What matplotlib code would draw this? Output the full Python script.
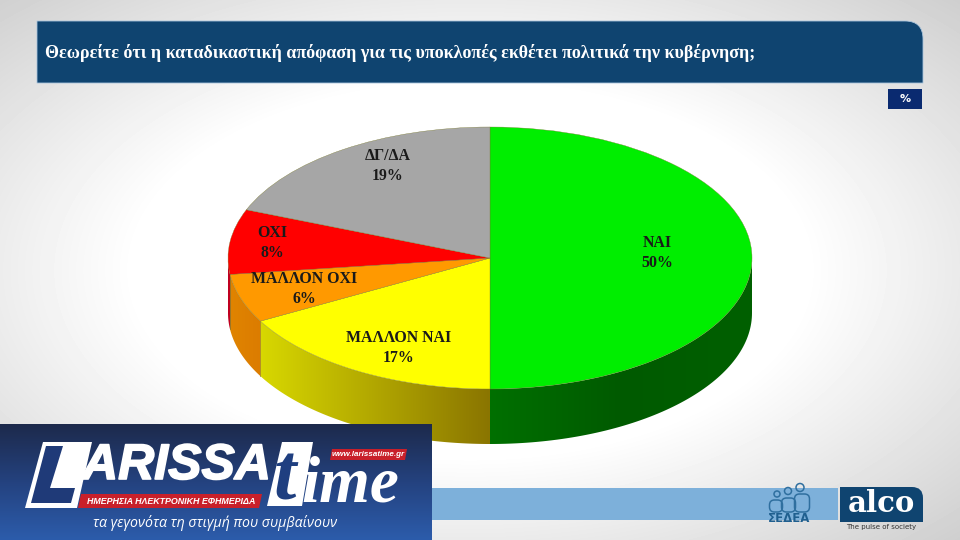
import numpy as np
import matplotlib
matplotlib.use("Agg")
import matplotlib.pyplot as plt
import matplotlib.patheffects as pe
from matplotlib.patches import Polygon, PathPatch, Rectangle, FancyBboxPatch, Circle
from matplotlib.path import Path
from matplotlib.colors import LinearSegmentedColormap

# data
categories = ["ΝΑΙ", "ΜΑΛΛΟΝ ΝΑΙ", "ΜΑΛΛΟΝ ΟΧΙ", "ΟΧΙ", "ΔΓ/ΔΑ"]
values = [50, 17, 6, 8, 19]
top_colors = ["#00ee00", "#ffff00", "#ff9900", "#ff0000", "#a6a6a6"]
wall_colors = [["#007000", "#005a00", "#006000"],
               ["#d8d800", "#8a7500"],
               ["#e08400", "#dc7c00"],
               ["#c00020", "#c00020"],
               ["#808080", "#808080"]]
label_pos = [(657, 253), (399, 348), (304, 289), (272, 243), (388, 166)]
title = "Θεωρείτε ότι η καταδικαστική απόφαση για τις υποκλοπές εκθέτει πολιτικά την κυβέρνηση;"

# pie geometry in pixels
cx, cy, rx, ry, depth = 490, 258, 262, 131, 55

fig = plt.figure(figsize=(9.6, 5.4), dpi=100)
ax = fig.add_axes([0, 0, 1, 1])
ax.set_xlim(0, 960)
ax.set_ylim(540, 0)
ax.axis("off")

# background
yy, xx = np.mgrid[0:540, 0:960]
dist = np.sqrt(((xx - 470) / 560.0) ** 2 + ((yy - 270) / 310.0) ** 2)
bg = np.clip(1.0 - 0.30 * np.clip(dist - 0.6, 0, None), 0, 1)
ax.imshow(bg, extent=[0, 960, 540, 0], cmap="gray", vmin=0, vmax=1, aspect="auto", zorder=0)

# title band, rounded top right corner only
band = Path([(37, 21), (905, 21), (923, 21), (923, 39), (923, 83), (37, 83), (37, 21)],
            [Path.MOVETO, Path.LINETO, Path.CURVE3, Path.CURVE3, Path.LINETO, Path.LINETO, Path.CLOSEPOLY])
ax.add_patch(PathPatch(band, fc="#0f4470", ec="#a9c4dc", lw=0.6, zorder=2))
ax.text(45, 53, title, color="white", fontsize=12.95, fontweight="bold", family="Liberation Serif",
        va="center", ha="left", zorder=3)
ax.add_patch(Rectangle((888, 89), 34, 20, fc="#0a2a70", ec="none", zorder=2))
ax.text(905, 99.5, "%", color="white", fontsize=8, fontweight="bold", ha="center", va="center", zorder=3)

# pie side wall, angles measured clockwise from the top of the ellipse
edges = np.cumsum([0] + values) / 100 * 2 * np.pi
for i in range(len(values)):
    lo, hi = max(edges[i], np.pi / 2), min(edges[i + 1], 3 * np.pi / 2)
    if hi <= lo:
        continue
    t = np.linspace(lo, hi, 80)
    xs = cx + rx * np.sin(t)
    ys = cy - ry * np.cos(t)
    pts = np.r_[np.c_[xs, ys], np.c_[xs[::-1], ys[::-1] + depth]]
    poly = Polygon(pts, closed=True, fc="none", ec="none", zorder=3)
    ax.add_patch(poly)
    cmap = LinearSegmentedColormap.from_list("w", wall_colors[i])
    im = ax.imshow(np.linspace(0, 1, 256).reshape(1, -1), extent=[xs.min(), xs.max(), ys.max() + depth, ys.min()],
                   cmap=cmap, aspect="auto", zorder=3, interpolation="bilinear")
    im.set_clip_path(poly)
    if i in (1, 2):
        ax.plot([xs[-1], xs[-1]], [ys[-1], ys[-1] + depth], color="#7a7a30", lw=0.5, zorder=3)
ax.set_xlim(0, 960)
ax.set_ylim(540, 0)

# pie top, stretched into an ellipse by its own axes box
pie_ax = fig.add_axes([(cx - rx) / 960, 1 - (cy + ry) / 540, 2 * rx / 960, 2 * ry / 540], zorder=5)
pie_ax.pie(values, colors=top_colors, startangle=90, counterclock=False, radius=1.0,
           wedgeprops={"edgecolor": "#7a7a30", "linewidth": 0.25})
pie_ax.set_aspect("auto")
pie_ax.set_xlim(-1, 1)
pie_ax.set_ylim(-1, 1)
pie_ax.patch.set_alpha(0)

# overlay axes for things above the pie
top = fig.add_axes([0, 0, 1, 1], zorder=6)
top.set_xlim(0, 960)
top.set_ylim(540, 0)
top.axis("off")
top.patch.set_alpha(0)

for name, v, (x, y) in zip(categories, values, label_pos):
    top.text(x, y, f"{name}\n{v}%", ha="center", va="center", fontsize=11.4, fontweight="bold",
             family="Liberation Serif", color="#1a1a1a", linespacing=1.4)

# bottom strip
ax = top
ax.add_patch(Rectangle((432, 488), 406, 32, fc="#7db0da", ec="none", zorder=1))

# ΣΕΔΕΑ mark
blue = "#2f6f9f"
for hx, hy, hr in [(777, 494, 3.0), (788, 491, 3.5), (800, 487.5, 4.0)]:
    ax.add_patch(Circle((hx, hy), hr, fc="none", ec=blue, lw=1.1, zorder=2))
for bx, bw, byt in [(776, 13, 500), (788.5, 14, 498), (802, 15, 494)]:
    ax.add_patch(FancyBboxPatch((bx - bw / 2, byt), bw, 512 - byt, boxstyle="round,pad=0,rounding_size=5",
                                fc="none", ec=blue, lw=1.1, zorder=2))
ax.text(789, 518.5, "ΣΕΔΕΑ", color="#1f5f8f", fontsize=8.5, fontweight="bold", ha="center", va="center", zorder=3)

# alco logo
logo = Path([(840, 487), (912, 487), (923, 487), (923, 498), (923, 522), (840, 522), (840, 487)],
            [Path.MOVETO, Path.LINETO, Path.CURVE3, Path.CURVE3, Path.LINETO, Path.LINETO, Path.CLOSEPOLY])
ax.add_patch(PathPatch(logo, fc="#0f4470", ec="none", zorder=2))
ax.text(881, 504, "alco", color="white", fontsize=21, fontweight="bold", family="DejaVu Serif",
        ha="center", va="center", zorder=3)
ax.text(881, 526.5, "The pulse of society", color="#333333", fontsize=5, ha="center", va="center", zorder=3)

# newspaper logo
cmap = LinearSegmentedColormap.from_list("n", ["#1d2a4c", "#24427f", "#2c5cab"])
ax.imshow(np.linspace(0, 1, 128).reshape(-1, 1), extent=[0, 432, 540, 424], cmap=cmap, aspect="auto", zorder=7)
ax.set_xlim(0, 960)
ax.set_ylim(540, 0)
ax.add_patch(Polygon([(43, 442), (92, 442), (77, 508), (25, 508)], fc="white", ec="none", zorder=8))
ax.add_patch(Polygon([(46, 446), (63, 446), (50, 488), (75, 488), (71, 503), (31, 503)],
                     fc="#1f3a78", ec="none", zorder=9))
ax.text(82, 466, "ARISSA", color="white", fontsize=36, fontweight="bold", style="italic", family="Liberation Sans",
        ha="left", va="center", zorder=8, path_effects=[pe.withStroke(linewidth=1.2, foreground="white")])
ax.add_patch(Polygon([(81, 494), (262, 494), (259, 508), (78, 508)], fc="#c8202a", ec="none", zorder=9))
ax.text(171, 501, "ΗΜΕΡΗΣΙΑ ΗΛΕΚΤΡΟΝΙΚΗ ΕΦΗΜΕΡΙΔΑ", color="white", fontsize=6.4, fontweight="bold", style="italic",
        family="Liberation Sans", ha="center", va="center", zorder=10)
ax.add_patch(Polygon([(282, 442), (313, 442), (302, 506), (267, 506)], fc="white", ec="none", zorder=8))
ax.text(285, 500, "t", color="#1f3f80", fontsize=58, fontweight="bold", style="italic", family="Liberation Serif",
        ha="center", va="baseline", zorder=9)
ax.text(301, 501, "ime", color="white", fontsize=47, fontweight="bold", style="italic", family="Liberation Serif",
        ha="left", va="baseline", zorder=10)
ax.add_patch(Polygon([(332, 449), (407, 449), (405, 460), (330, 460)], fc="#c8202a", ec="none", zorder=11))
ax.text(368, 454.5, "www.larissatime.gr", color="white", fontsize=5.8, fontweight="bold", style="italic",
        family="Liberation Sans", ha="center", va="center", zorder=12)
ax.text(215, 523, "τα γεγονότα τη στιγμή που συμβαίνουν", color="white", fontsize=10.2, style="italic",
        family="Open Sans", ha="center", va="center", zorder=8)

fig.savefig("out.png", dpi=100)
